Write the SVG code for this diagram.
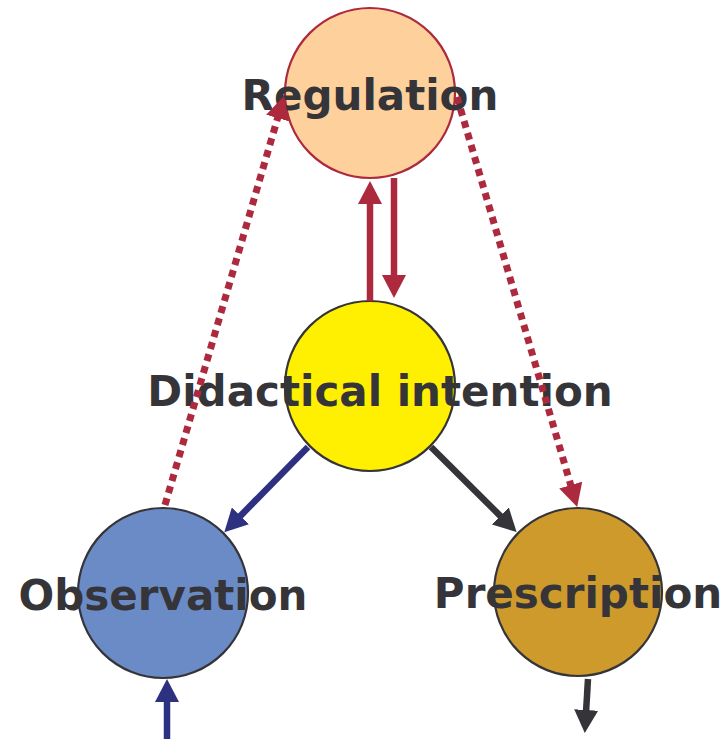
<svg xmlns="http://www.w3.org/2000/svg" width="726" height="739" viewBox="0 0 726 739">
  <style>
    .node circle { stroke: #353539; stroke-width: 2.2; }
    .label { font-family: "DejaVu Sans", Verdana, sans-serif; font-weight: bold; font-size: 42px; fill: #353539; text-anchor: middle; }
    .red { stroke: #ad2a3e; stroke-width: 6.5; fill: none; }
    .dotted { stroke-width: 7; stroke-dasharray: 7 5.5; }
    .blue { stroke: #2e3180; stroke-width: 6.5; fill: none; }
    .dark { stroke: #353539; stroke-width: 6.5; fill: none; }
  </style>
  <defs>
    <marker id="head-red" viewBox="0 0 23 24" markerWidth="23" markerHeight="24" refX="1" refY="12" orient="auto" markerUnits="userSpaceOnUse">
      <path d="M0,0 L23,12 L0,24 Z" fill="#ad2a3e"/>
    </marker>
    <marker id="head-blue" viewBox="0 0 23 24" markerWidth="23" markerHeight="24" refX="1" refY="12" orient="auto" markerUnits="userSpaceOnUse">
      <path d="M0,0 L23,12 L0,24 Z" fill="#2e3180"/>
    </marker>
    <marker id="head-dark" viewBox="0 0 23 24" markerWidth="23" markerHeight="24" refX="1" refY="12" orient="auto" markerUnits="userSpaceOnUse">
      <path d="M0,0 L23,12 L0,24 Z" fill="#353539"/>
    </marker>
  </defs>

  <!-- nodes -->
  <g id="regulation" class="node">
    <circle cx="370" cy="93" r="85" fill="#fdd09c" style="stroke:#ad2a3e"/>
    <text class="label" x="370" y="110">Regulation</text>
  </g>
  <g id="didactical-intention" class="node">
    <circle cx="370" cy="386" r="85" fill="#ffef00"/>
    <text class="label" x="380" y="406">Didactical intention</text>
  </g>
  <g id="observation" class="node">
    <circle cx="163" cy="593" r="85" fill="#6b8bc6"/>
    <text class="label" x="163" y="610">Observation</text>
  </g>
  <g id="prescription" class="node">
    <circle cx="578" cy="592" r="84" fill="#cf9a2c"/>
    <text class="label" x="578" y="608">Prescription</text>
  </g>

  <!-- connectors -->
  <g id="connectors">
    <line class="red" x1="370" y1="301" x2="370" y2="203" marker-end="url(#head-red)"/>
    <line class="red" x1="394" y1="178" x2="394" y2="276" marker-end="url(#head-red)"/>
    <line class="red dotted" x1="165" y1="505" x2="277.9" y2="117.1" marker-end="url(#head-red)"/>
    <line class="red dotted" x1="457" y1="97" x2="571" y2="486" marker-end="url(#head-red)"/>
    <line class="blue" x1="308" y1="447" x2="239.7" y2="516.6" marker-end="url(#head-blue)"/>
    <line class="dark" x1="431" y1="447" x2="501" y2="516.6" marker-end="url(#head-dark)"/>
    <line class="blue" x1="167" y1="739" x2="167" y2="701" marker-end="url(#head-blue)"/>
    <line class="dark" x1="588" y1="679" x2="586.1" y2="711" marker-end="url(#head-dark)"/>
  </g>
</svg>
